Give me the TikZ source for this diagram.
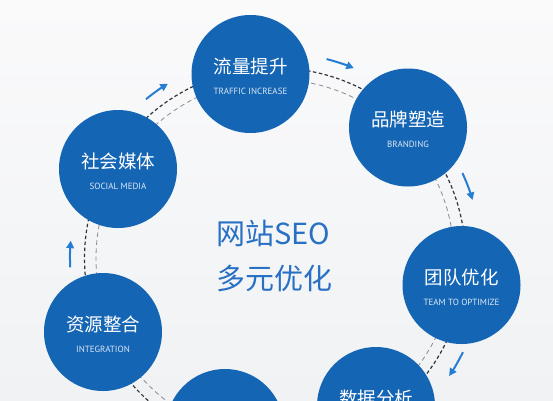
\documentclass[tikz,border=0pt]{standalone}
\usepackage{fontspec}
\newfontfamily\cjkf{Noto Sans CJK SC}
\newfontfamily\labf{PT Sans}
\usetikzlibrary{calc,arrows.meta}
\definecolor{cblue}{RGB}{21,101,181}
\definecolor{tblue}{RGB}{40,112,196}
\definecolor{ablue}{RGB}{38,126,212}
\definecolor{dkdash}{RGB}{50,53,58}
\definecolor{ltdash}{RGB}{140,143,148}
\definecolor{bgtop}{RGB}{250,250,251}
\definecolor{bgbot}{RGB}{240,242,244}
\begin{document}
\begin{tikzpicture}[x=1pt,y=-1pt,
  bubble/.style={circle,fill=cblue,minimum size=118pt,inner sep=0pt},
  cjklabel/.style={text=white,font=\cjkf\fontsize{18.5}{18.5}\selectfont,inner sep=0pt},
  enlabel/.style={text=white!85!cblue,font=\labf\fontsize{9}{9}\selectfont,inner sep=0pt},
  darkring/.style={draw=dkdash,line width=1.2pt,dash pattern=on 3.5pt off 2.5pt},
  lightring/.style={draw=ltdash,line width=0.85pt,dash pattern=on 4.5pt off 3.5pt},
  flow/.style={draw=ablue,line width=2pt,-{Triangle[length=7.5pt,width=7.5pt]}},
  headline/.style={text=tblue,font=\cjkf\fontsize{29}{29}\selectfont,inner sep=0pt,anchor=west}]
\useasboundingbox (0,0) rectangle (553,400);
\clip (0,0) rectangle (553,400);
\shade[top color=bgtop,bottom color=bgbot] (0,0) rectangle (553,400);
\coordinate (o) at (275,258.5);
% dashed rings
\draw[darkring] (o) circle[radius=190.5];
\draw[lightring] (o) circle[radius=179];
% bubbles
\node[bubble] (c1) at (250.5,74) {};
\node[bubble] (c2) at (408,127.5) {};
\node[bubble] (c3) at (461.5,285) {};
\node[bubble] (c4) at (376,406) {};
\node[bubble] (c5) at (225,428) {};
\node[bubble] (c6) at (103,332) {};
\node[bubble] (c7) at (118,169) {};
% labels
\node[cjklabel] (t1) at ($(c1)+(0,-8)$) {流量提升};
\node[enlabel] (e1) at ($(c1)+(0,17)$) {TRAFFIC INCREASE};
\node[cjklabel] (t2) at ($(c2)+(0,-8)$) {品牌塑造};
\node[enlabel] (e2) at ($(c2)+(0,17)$) {BRANDING};
\node[cjklabel] (t3) at ($(c3)+(0,-8)$) {团队优化};
\node[enlabel] (e3) at ($(c3)+(0,17)$) {TEAM TO OPTIMIZE};
\node[cjklabel] (t4) at ($(c4)+(0,-8)$) {数据分析};
\node[cjklabel] (t6) at ($(c6)+(0,-8)$) {资源整合};
\node[enlabel] (e6) at ($(c6)+(0,17)$) {INTEGRATION};
\node[cjklabel] (t7) at ($(c7)+(0,-8)$) {社会媒体};
\node[enlabel] (e7) at ($(c7)+(0,17)$) {SOCIAL MEDIA};
% center title
\node[headline] (h1) at (216,233.5) {网站SEO};
\node[headline] (h2) at (216,278.5) {多元优化};
% flow arrows
\draw[flow] ($(o)+(-75.5:206)$) arc[start angle=-75.5,end angle=-67.5,radius=206];
\draw[flow] ($(o)+(-24.5:206)$) arc[start angle=-24.5,end angle=-16.5,radius=206];
\draw[flow] ($(o)+(26.5:210)$) arc[start angle=26.5,end angle=34,radius=210];
\draw[flow] ($(o)+(-182.5:205)$) arc[start angle=-182.5,end angle=-175,radius=205];
\draw[flow] ($(o)+(-129:205)$) arc[start angle=-129,end angle=-121.5,radius=205];
\end{tikzpicture}
\end{document}
